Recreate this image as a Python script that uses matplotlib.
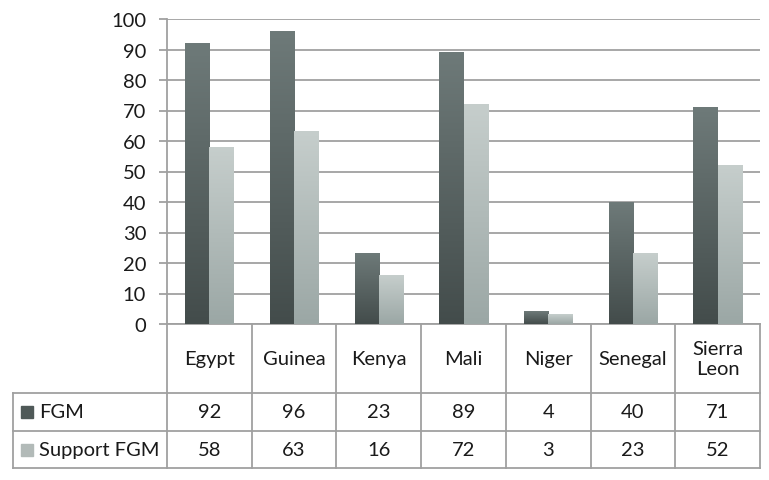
import matplotlib
matplotlib.use("Agg")
import matplotlib.pyplot as plt
import numpy as np
from matplotlib.colors import LinearSegmentedColormap
from matplotlib.transforms import blended_transform_factory

categories = ["Egypt", "Guinea", "Kenya", "Mali", "Niger", "Senegal", "Sierra\nLeon"]
series_names = ["FGM", "Support FGM"]
fgm = [92, 96, 23, 89, 4, 40, 71]
support = [58, 63, 16, 72, 3, 23, 52]
yticks = [0, 10, 20, 30, 40, 50, 60, 70, 80, 90, 100]

plt.rcParams['font.family'] = ['Lato', 'DejaVu Sans']
FS = 14.5
W, H = 769, 481
fig = plt.figure(figsize=(W/100, H/100), dpi=100)
L, R, T, B = 167, 760, 20, 325
ax = fig.add_axes([L/W, 1-B/H, (R-L)/W, (B-T)/H])

n = len(categories)
ax.set_xlim(0, n)
ax.set_ylim(0, 100)
grid_c = '#a0a0a0'
text_c = '#1a1a1a'
for s in ['top', 'right']:
    ax.spines[s].set_visible(False)
for s in ['left', 'bottom']:
    ax.spines[s].set_color(grid_c)
    ax.spines[s].set_linewidth(1.3)
ax.set_yticks(yticks)
ax.set_yticklabels([str(v) for v in yticks], fontsize=FS, color=text_c)
ax.tick_params(axis='y', length=6, color=grid_c, width=1.3, pad=9)
ax.set_xticks([])
ax.yaxis.grid(True, color=grid_c, linewidth=1.3)
ax.set_axisbelow(True)

dark_cmap = LinearSegmentedColormap.from_list('d', ['#434c4b', '#6e7a79'])
light_cmap = LinearSegmentedColormap.from_list('l', ['#9ba7a5', '#c6cecc'])
bw = 0.285
x = np.arange(n) + 0.5
grad = np.linspace(0, 1, 256).reshape(-1, 1)
for vals, off, cmap in [(fgm, -bw/2, dark_cmap), (support, bw/2, light_cmap)]:
    bars = ax.bar(x + off, vals, width=bw, color='none', edgecolor='none', zorder=3)
    for b in bars:
        x0, w, h = b.get_x(), b.get_width(), b.get_height()
        ax.imshow(grad, extent=[x0, x0 + w, 0, h], origin='lower', aspect='auto',
                  cmap=cmap, zorder=3)
ax.set_xlim(0, n)
ax.set_ylim(0, 100)

# data table
tr = blended_transform_factory(ax.transData, fig.transFigure)
def fy(py):
    return 1 - py / H
left_x = (13 - L) / (R - L) * n
row_cat = (325, 394)
row1 = (394, 432)
row2 = (432, 469)
lw = 1.3
for i in range(n + 1):
    ax.plot([i, i], [fy(325), fy(469)], transform=tr, color=grid_c, lw=lw, clip_on=False)
ax.plot([left_x, left_x], [fy(394), fy(469)], transform=tr, color=grid_c, lw=lw, clip_on=False)
for py in [394, 432, 469]:
    ax.plot([left_x, n], [fy(py), fy(py)], transform=tr, color=grid_c, lw=lw, clip_on=False)

for i, c in enumerate(categories):
    ax.text(i + 0.5, fy((row_cat[0] + row_cat[1]) / 2), c, transform=tr, ha='center',
            va='center', fontsize=FS, color=text_c, linespacing=1.2)
for row, vals in [(row1, fgm), (row2, support)]:
    for i, v in enumerate(vals):
        ax.text(i + 0.5, fy((row[0] + row[1]) / 2), str(v), transform=tr, ha='center',
                va='center', fontsize=FS, color=text_c)

for row, name, col in [(row1, series_names[0], '#4f5958'), (row2, series_names[1], '#b2bab8')]:
    cy = (row[0] + row[1]) / 2
    fig.patches.append(plt.Rectangle((21 / W, fy(cy + 6)), 12 / W, 12 / H,
                                     transform=fig.transFigure, color=col))
    fig.text(39 / W, fy(cy), name, ha='left', va='center', fontsize=FS, color=text_c)

fig.savefig("out.png", dpi=100)
